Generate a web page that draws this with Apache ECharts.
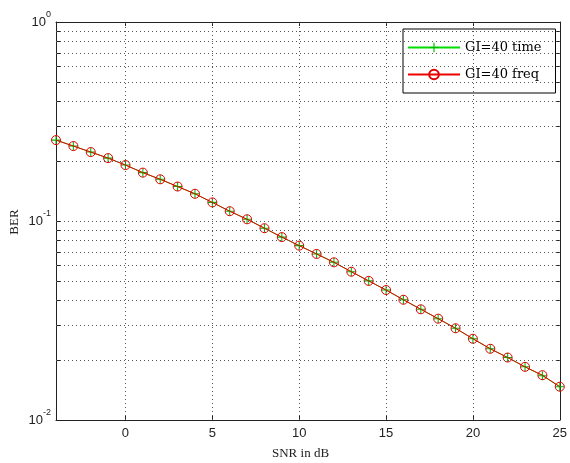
<!DOCTYPE html>
<html>
<head>
<meta charset="utf-8">
<script src="https://cdn.jsdelivr.net/npm/echarts@6/dist/echarts.min.js"></script>
<style>
html,body{margin:0;padding:0;background:#fff;}
#c{width:570px;height:463px;}
</style>
</head>
<body>
<div id="c"></div>
<script>
// Data
const snr = [-4,-3,-2,-1,0,1,2,3,4,5,6,7,8,9,10,11,12,13,14,15,16,17,18,19,20,21,22,23,24,25];
const berTime = [0.255,0.238,0.222,0.207,0.191,0.175,0.162,0.149,0.137,0.124,0.112,0.102,0.092,0.083,0.0752,0.0683,0.0620,0.0556,0.0500,0.0450,0.0402,0.0360,0.0323,0.0289,0.0256,0.0228,0.0206,0.0185,0.0167,0.0147];
const berFreq = [0.255,0.238,0.222,0.207,0.191,0.175,0.162,0.149,0.137,0.124,0.112,0.102,0.092,0.083,0.0752,0.0683,0.0620,0.0556,0.0500,0.0450,0.0402,0.0360,0.0323,0.0289,0.0256,0.0228,0.0206,0.0185,0.0168,0.0147];
const seriesNames = ['GI=40 time','GI=40 freq'];
const xTickValues = [0,5,10,15,20,25];
const xGridValues = [0,5,10,15,20];
const yGridValues = [0.02,0.03,0.04,0.05,0.06,0.07,0.08,0.09,0.1,0.2,0.3,0.4,0.5,0.6,0.7,0.8,0.9];
const yTickValues = [0.01,0.02,0.03,0.04,0.05,0.06,0.07,0.08,0.09,0.1,0.2,0.3,0.4,0.5,0.6,0.7,0.8,0.9,1];
const yLabelValues = [0.01,0.1,1];

const chart = echarts.init(document.getElementById('c'), null, {renderer:'canvas'});
const sans = 'Liberation Sans';
const gridStyle = {color:'#555', width:1, type:[1,3]};
const axisLineStyle = {color:'#222', width:1};

const markLines = [];
xGridValues.forEach(v => markLines.push({xAxis: v}));
yGridValues.forEach(v => markLines.push({yAxis: v}));

const plusPath = 'path://M4.4,0H5.6V4.4H10V5.6H5.6V10H4.4V5.6H0V4.4H4.4Z';

chart.setOption({
  animation:false,
  backgroundColor:'#fff',
  grid:{left:56,right:7,top:22,bottom:43,containLabel:false},
  legend:{
    orient:'vertical',
    left:403, top:29,
    padding:[12,14,12,4],
    itemGap:14,
    itemWidth:52, itemHeight:12,
    backgroundColor:'#fff',
    borderColor:'#000', borderWidth:1,
    textStyle:{fontFamily:'DejaVu Serif', fontSize:13, color:'#000'},
    data:seriesNames
  },
  xAxis:[{
    type:'value', min:-4, max:25, position:'bottom',
    axisLine:{show:true, onZero:false, lineStyle:axisLineStyle},
    axisTick:{show:true, inside:true, length:4, customValues:xTickValues, lineStyle:axisLineStyle},
    axisLabel:{show:true, customValues:xTickValues, margin:7, fontFamily:sans, fontSize:13, color:'#222'},
    splitLine:{show:false}
  },{
    type:'value', min:-4, max:25, position:'top',
    axisLine:{show:true, onZero:false, lineStyle:axisLineStyle},
    axisTick:{show:true, inside:true, length:4, customValues:xTickValues, lineStyle:axisLineStyle},
    axisLabel:{show:false},
    splitLine:{show:false}
  }],
  yAxis:[{
    type:'log', logBase:10, min:0.01, max:1, position:'left',
    axisLine:{show:true, onZero:false, lineStyle:axisLineStyle},
    axisTick:{show:true, inside:true, length:4, customValues:yTickValues, lineStyle:axisLineStyle},
    axisLabel:{
      show:true, margin:5, color:'#222',
      customValues:yLabelValues,
      formatter:function(v){
        const e = Math.round(Math.log10(v));
        return '{b|10}{s|' + e + '}';
      },
      rich:{
        b:{fontFamily:sans, fontSize:13, color:'#222', verticalAlign:'middle'},
        s:{fontFamily:sans, fontSize:9, color:'#222', verticalAlign:'middle', padding:[0,0,14,0]}
      }
    },
    splitLine:{show:false}
  },{
    type:'log', logBase:10, min:0.01, max:1, position:'right',
    axisLine:{show:true, onZero:false, lineStyle:axisLineStyle},
    axisTick:{show:true, inside:true, length:4, customValues:yTickValues, lineStyle:axisLineStyle},
    axisLabel:{show:false},
    splitLine:{show:false}
  }],
  graphic:[
    {type:'text', left:272, top:447, silent:true,
     style:{text:'SNR in dB', font:'13px "Liberation Serif"', fill:'#222'}},
    {type:'text', x:15, y:222, rotation:Math.PI/2, silent:true,
     style:{text:'BER', font:'13px "Liberation Serif"', fill:'#222', align:'center', verticalAlign:'middle'}}
  ],
  series:[{
    name:seriesNames[0], type:'line',
    xAxisIndex:0, yAxisIndex:0,
    data:snr.map((x,i)=>[x, berTime[i]]),
    symbol:plusPath, symbolSize:9, symbolKeepAspect:true,
    showAllSymbol:true,
    lineStyle:{color:'#00dd00', width:1},
    itemStyle:{color:'#00bb00'},
    markLine:{
      silent:true, symbol:['none','none'], animation:false,
      label:{show:false}, lineStyle:gridStyle,
      emphasis:{disabled:true},
      data:markLines
    },
    z:2
  },{
    name:seriesNames[1], type:'line',
    xAxisIndex:0, yAxisIndex:0,
    data:snr.map((x,i)=>[x, berFreq[i]]),
    symbol:'circle', symbolSize:9,
    showAllSymbol:true,
    lineStyle:{color:'#ee0000', width:1},
    itemStyle:{color:'rgba(255,255,255,0)', borderColor:'#e00000', borderWidth:1},
    z:3
  }]
});
</script>
</body>
</html>
